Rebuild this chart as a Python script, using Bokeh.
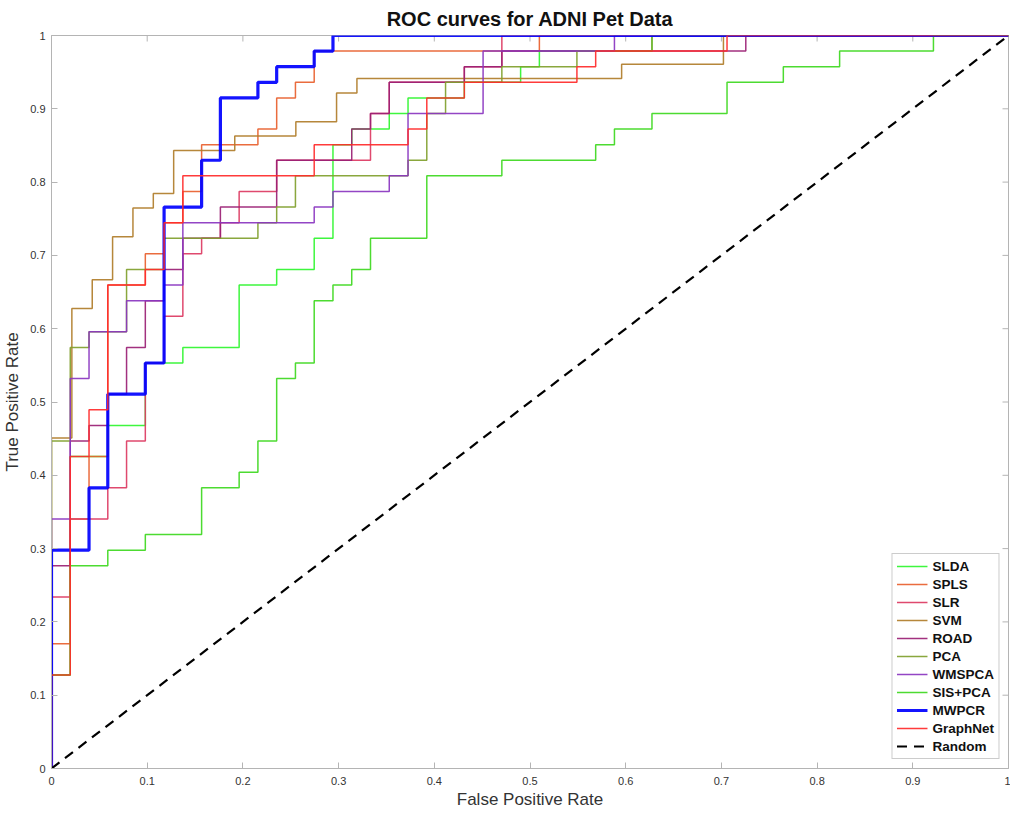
import math
from bokeh.plotting import figure
from bokeh.models import Range1d, FixedTicker, Legend, LegendItem
from bokeh.embed import file_html
from bokeh.resources import INLINE

# ROC step curves, as counts of negatives (x) and positives (y)
N_NEG = 51
N_POS = 47
SVM_NX = 47   # SVM curve sits on a swapped grid
SVM_NY = 51

slda_fp = [0,0,1,1,3,3,5,5,7,7,10,10,12,12,14,14,15,15,16,16,18,18,19,19,22,22,25,25,26,26,32,32,51]
slda_tp = [0,6,6,20,20,22,22,26,26,27,27,31,31,32,32,34,34,40,40,41,41,42,42,43,43,44,44,45,45,46,46,47,47]

spls_fp = [0,0,1,1,2,2,3,3,5,5,6,6,7,7,8,8,11,11,12,12,13,13,14,14,26,26,51]
spls_tp = [0,8,8,16,16,20,20,31,31,33,33,35,35,37,37,40,40,41,41,43,43,44,44,46,46,47,47]

slr_fp = [0,0,1,1,3,3,4,4,5,5,6,6,7,7,8,8,9,9,10,10,12,12,17,17,18,18,22,22,24,24,51]
slr_tp = [0,11,11,16,16,18,18,21,21,26,26,29,29,33,33,34,34,35,35,37,37,39,39,42,42,44,44,45,45,47,47]

svm_fp = [0,0,1,1,2,2,3,3,4,4,5,5,6,6,9,9,12,12,14,14,15,15,28,28,33,33,47]
svm_tp = [0,23,23,32,32,34,34,37,37,39,39,40,40,43,43,44,44,45,45,47,47,48,48,49,49,51,51]

road_fp = [0,0,1,1,2,2,3,3,4,4,5,5,6,6,7,7,9,9,12,12,16,16,17,17,18,18,22,22,24,24,37,37,51]
road_tp = [0,13,13,21,21,22,22,24,24,27,27,30,30,32,32,34,34,36,36,39,39,41,41,42,42,44,44,45,45,46,46,47,47]

pca_fp = [0,0,1,1,2,2,4,4,6,6,11,11,12,12,13,13,19,19,20,20,21,21,24,24,28,28,32,32,51]
pca_tp = [0,21,21,27,27,28,28,32,32,34,34,35,35,36,36,38,38,39,39,42,42,44,44,45,45,46,46,47,47]

wmspca_fp = [0,0,1,1,2,2,4,4,6,6,7,7,14,14,15,15,18,18,19,19,23,23,30,30,51]
wmspca_tp = [0,16,16,25,25,28,28,30,30,31,31,35,35,36,36,37,37,38,38,42,42,46,46,47,47]

sispca_fp = [0,0,1,1,3,3,5,5,8,8,10,10,11,11,12,12,13,13,14,14,15,15,16,16,17,17,20,20,24,24,29,29,30,30,32,32,36,36,39,39,42,42,47,47,51]
sispca_tp = [0,6,6,13,13,14,14,15,15,18,18,19,19,21,21,25,25,26,26,30,30,31,31,32,32,34,34,38,38,39,39,40,40,41,41,42,42,44,44,45,45,46,46,47,47]

mwpcr_fp = [0,0,2,2,3,3,5,5,6,6,8,8,9,9,11,11,12,12,14,14,15,15,51]
mwpcr_tp = [0,14,14,18,18,24,24,26,26,36,36,39,39,43,43,44,44,45,45,46,46,47,47]

graphnet_fp = [0,0,1,1,2,2,3,3,5,5,6,6,7,7,14,14,19,19,20,20,22,22,28,28,29,29,36,36,51]
graphnet_tp = [0,6,6,20,20,23,23,31,31,32,32,35,35,38,38,40,40,41,41,43,43,44,44,45,45,46,46,47,47]

random_x = [0, 1]
random_y = [0, 1]

ticks = [0, 0.1, 0.2, 0.3, 0.4, 0.5, 0.6, 0.7, 0.8, 0.9, 1]
tick_labels = ["0", "0.1", "0.2", "0.3", "0.4", "0.5", "0.6", "0.7", "0.8", "0.9", "1"]

FONT = "Liberation Sans"
AX_COL = "#b4b4b4"
TXT_COL = "#333333"

p = figure(frame_width=957, frame_height=733,
           x_range=Range1d(0, 1), y_range=Range1d(0, 1),
           output_backend="svg", toolbar_location=None,
           min_border_left=10, min_border_right=2,
           min_border_top=27, min_border_bottom=5)
p.background_fill_color = "white"
p.border_fill_color = "white"
p.outline_line_color = AX_COL
p.grid.visible = False

p.title.text = "ROC curves for ADNI Pet Data"
p.title.align = "center"
p.title.text_font = FONT
p.title.text_font_size = "20px"
p.title.text_font_style = "bold"
p.title.text_color = "#111111"
p.title.offset = 0
p.title.standoff = 11

ticker = FixedTicker(ticks=ticks)
overrides = dict(zip(ticks, tick_labels))

for ax in (p.xaxis[0], p.yaxis[0]):
    ax.ticker = ticker
    ax.major_label_overrides = overrides
    ax.axis_line_color = AX_COL
    ax.major_tick_line_color = AX_COL
    ax.major_tick_in = 6
    ax.major_tick_out = 0
    ax.minor_tick_line_color = None
    ax.major_label_text_font = FONT
    ax.major_label_text_font_size = "11px"
    ax.major_label_text_color = TXT_COL
    ax.axis_label_text_font = FONT
    ax.axis_label_text_font_size = "17px"
    ax.axis_label_text_font_style = "normal"
    ax.axis_label_text_color = TXT_COL

p.xaxis.axis_label = "False Positive Rate"
p.yaxis.axis_label = "True Positive Rate"
p.xaxis.major_label_standoff = 8
p.yaxis.major_label_standoff = 6
p.xaxis.axis_label_standoff = 2
p.yaxis.axis_label_standoff = 5

# box ticks on the top and right edges (inward), at the same tick values
p.ray(x=ticks, y=[1] * len(ticks), length=6, angle=-math.pi / 2,
      length_units="screen", line_color=AX_COL, line_width=1)
p.ray(x=[1] * len(ticks), y=ticks, length=6, angle=math.pi,
      length_units="screen", line_color=AX_COL, line_width=1)

def rates(counts, n):
    return [c / n for c in counts]

series = [
    ("SLDA", slda_fp, slda_tp, N_NEG, N_POS, "#2ef52e", 1.5),
    ("SPLS", spls_fp, spls_tp, N_NEG, N_POS, "#e8602e", 1.5),
    ("SLR", slr_fp, slr_tp, N_NEG, N_POS, "#dc3a62", 1.5),
    ("SVM", svm_fp, svm_tp, SVM_NX, SVM_NY, "#b07d2a", 1.5),
    ("ROAD", road_fp, road_tp, N_NEG, N_POS, "#9a1f74", 1.5),
    ("PCA", pca_fp, pca_tp, N_NEG, N_POS, "#80a02c", 1.5),
    ("WMSPCA", wmspca_fp, wmspca_tp, N_NEG, N_POS, "#8a35c0", 1.5),
    ("SIS+PCA", sispca_fp, sispca_tp, N_NEG, N_POS, "#3ed820", 1.5),
    ("MWPCR", mwpcr_fp, mwpcr_tp, N_NEG, N_POS, "#0000ff", 3.2),
    ("GraphNet", graphnet_fp, graphnet_tp, N_NEG, N_POS, "#ff2a2a", 1.5),
]

items = []
for name, fx, ty, nx, ny, col, w in series:
    r = p.line(rates(fx, nx), rates(ty, ny), line_color=col, line_width=w, line_alpha=0.92)
    items.append(LegendItem(label=name, renderers=[r]))

rr = p.line(random_x, random_y, line_color="black", line_width=2.2, line_dash="10 7")
items.append(LegendItem(label="Random", renderers=[rr]))

legend = Legend(items=items, location="bottom_right")
legend.label_text_font = FONT
legend.label_text_font_size = "13.5px"
legend.label_text_font_style = "bold"
legend.label_text_color = "#111111"
legend.label_height = 16
legend.glyph_height = 16
legend.glyph_width = 31
legend.label_standoff = 5
legend.spacing = 2
legend.padding = 4
legend.margin = 9
legend.border_line_color = "#9a9a9a"
legend.border_line_width = 1
legend.background_fill_color = "white"
legend.background_fill_alpha = 1
p.add_layout(legend)

open("out.html", "w").write(file_html(p, INLINE))
